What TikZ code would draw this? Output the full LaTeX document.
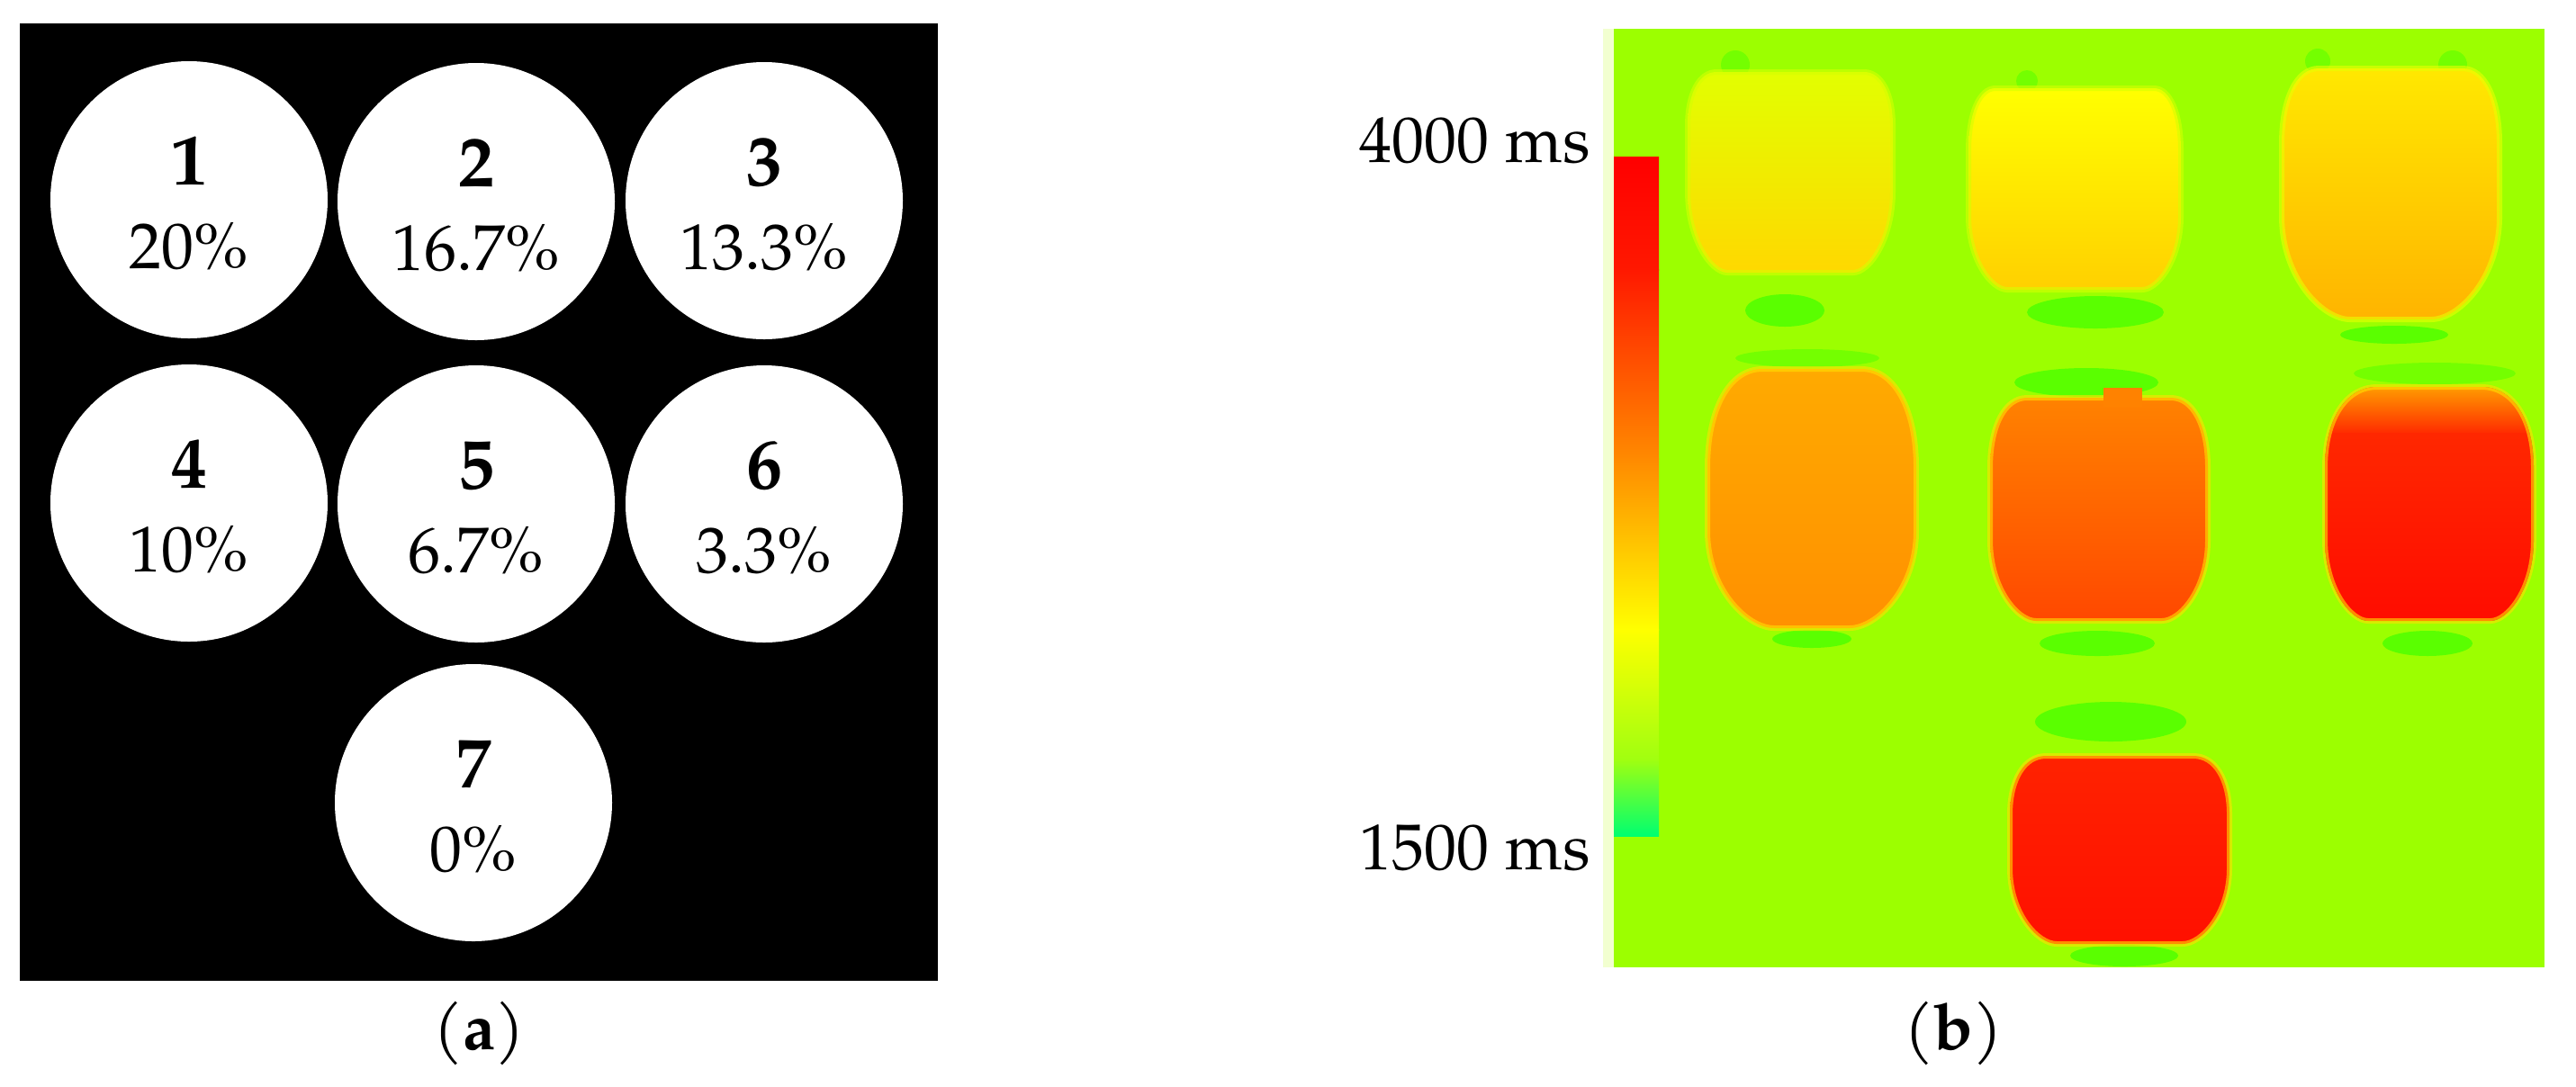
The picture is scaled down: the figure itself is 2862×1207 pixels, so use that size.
\documentclass[tikz,border=0pt]{standalone}
\usepackage{fontspec}
\setmainfont{TeX Gyre Pagella}
\definecolor{bggreen}{HTML}{9CFF00}
\definecolor{spotgreen}{HTML}{45FF00}
\definecolor{palestrip}{HTML}{F2FFD0}
\definecolor{cbA}{HTML}{FF0000}
\definecolor{cbB}{HTML}{FF1800}
\definecolor{cbC}{HTML}{FF8A00}
\definecolor{cbD}{HTML}{FFFF00}
\definecolor{cbE}{HTML}{A0FF10}
\definecolor{cbF}{HTML}{00FF70}
\definecolor{rimA}{HTML}{D4FF00}
\definecolor{rimB}{HTML}{E8FF00}
\definecolor{rimC}{HTML}{FFE000}
\definecolor{bOneT}{HTML}{E2FF00}\definecolor{bOneM}{HTML}{FFFC00}\definecolor{bOneB}{HTML}{FFD800}
\definecolor{bTwoT}{HTML}{FFFF00}\definecolor{bTwoM}{HTML}{FFF000}\definecolor{bTwoB}{HTML}{FFD000}
\definecolor{bThrT}{HTML}{FFE800}\definecolor{bThrM}{HTML}{FFD200}\definecolor{bThrB}{HTML}{FFB400}
\definecolor{bFouT}{HTML}{FFAA00}\definecolor{bFouM}{HTML}{FF9A00}\definecolor{bFouB}{HTML}{FF9000}
\definecolor{bFivT}{HTML}{FF8200}\definecolor{bFivM}{HTML}{FF6E00}\definecolor{bFivB}{HTML}{FF4800}
\definecolor{bSixT}{HTML}{FF2E00}\definecolor{bSixM}{HTML}{FF1A00}\definecolor{bSixB}{HTML}{FF0C00}
\definecolor{bSevT}{HTML}{FF2200}\definecolor{bSevM}{HTML}{FF1400}\definecolor{bSevB}{HTML}{FF1000}
\definecolor{bandO}{HTML}{FFA000}
% barrel outline: cx, top, bottom, yA, yB, half width, half top width, half bottom width
\newcommand\barrelpath[8]{({#1-#7},#2) -- ({#1+#7},#2)
    .. controls ({#1+#7+0.6*(#6-#7)},#2) and ({#1+#6},{#2+0.4*(#4-#2)}) .. ({#1+#6},#4)
    -- ({#1+#6},#5)
    .. controls ({#1+#6},{#5+0.6*(#3-#5)}) and ({#1+#8+0.4*(#6-#8)},#3) .. ({#1+#8},#3)
    -- ({#1-#8},#3)
    .. controls ({#1-#8-0.4*(#6-#8)},#3) and ({#1-#6},{#5+0.6*(#3-#5)}) .. ({#1-#6},#5)
    -- ({#1-#6},#4)
    .. controls ({#1-#6},{#2+0.4*(#4-#2)}) and ({#1-#7-0.6*(#6-#7)},#2) .. ({#1-#7},#2) -- cycle}
\begin{document}
\begin{tikzpicture}[x=0.5pt,y=-0.5pt,
  circ/.style={circle,fill=white,minimum size=154pt,inner sep=0pt},
  numtxt/.style={anchor=base,font=\fontsize{40}{44}\selectfont\bfseries,inner sep=0pt},
  pcttxt/.style={anchor=base,font=\fontsize{36}{40}\selectfont,inner sep=0pt},
  labtxt/.style={anchor=base east,font=\fontsize{36}{40}\selectfont,inner sep=0pt},
  captxt/.style={anchor=base,font=\fontsize{36}{40}\selectfont,inner sep=0pt},
  halo/.style={fill=spotgreen,opacity=0.75},
  softhalo/.style={fill=spotgreen,opacity=0.45},
  rimline/.style={draw=#1,line width=3pt,draw opacity=0.6}]
\useasboundingbox (0,0) rectangle (2862,1207);
\fill[white] (0,0) rectangle (2862,1207);
% ---------- panel (a)
\fill[black] (22,26) rectangle (1042,1090);
\foreach \i/\x/\y/\p in {1/210/222/20\%, 2/529/224/16.7\%, 3/849/223/13.3\%,
                         4/210/559/10\%, 5/529/560/6.7\%, 6/849/560/3.3\%,
                         7/526/892/0\%}{
  \node[circ] (c\i) at (\x,\y) {};
  \node[numtxt] (n\i) at (\x,\y-17) {\i};
  \node[pcttxt] (p\i) at (\x,\y+76) {\p};
}
\node[captxt] (capa) at (532,1166) {(\textbf{a})};
% ---------- panel (b)
\fill[bggreen] (1781,32) rectangle (2827,1075);
\fill[palestrip] (1781,32) rectangle (1793,1075);
% colour bar
\shade[top color=cbA, bottom color=cbB] (1793,174) rectangle (1843,300);
\shade[top color=cbB, bottom color=cbC] (1793,299) rectangle (1843,510);
\shade[top color=cbC, bottom color=cbD] (1793,509) rectangle (1843,700);
\shade[top color=cbD, bottom color=cbE] (1793,699) rectangle (1843,845);
\shade[top color=cbE, bottom color=cbF] (1793,844) rectangle (1843,929);
\node[labtxt] (l4000) at (1767,180) {4000 ms};
\node[labtxt] (l1500) at (1767,966) {1500 ms};
% green halos
\fill[halo] (1983,345) ellipse [x radius=22pt, y radius=9pt];
\fill[halo] (2328,347) ellipse [x radius=38pt, y radius=9pt];
\fill[halo] (2660,372) ellipse [x radius=30pt, y radius=5pt];
\fill[softhalo] (2008,398) ellipse [x radius=40pt, y radius=5pt];
\fill[halo] (2013,710) ellipse [x radius=22pt, y radius=5pt];
\fill[halo] (2318,425) ellipse [x radius=40pt, y radius=8pt];
\fill[halo] (2330,715) ellipse [x radius=32pt, y radius=7pt];
\fill[softhalo] (2705,415) ellipse [x radius=45pt, y radius=6pt];
\fill[halo] (2697,715) ellipse [x radius=25pt, y radius=7pt];
\fill[halo] (2345,802) ellipse [x radius=42pt, y radius=11pt];
\fill[halo] (2360,1062) ellipse [x radius=30pt, y radius=6pt];
\fill[softhalo] (1928,72) circle [radius=8pt];
\fill[softhalo] (2252,90) circle [radius=6pt];
\fill[softhalo] (2575,68) circle [radius=7pt];
\fill[softhalo] (2725,72) circle [radius=8pt];
% blobs
\path[rimline=rimA,top color=bOneT,middle color=bOneM,bottom color=bOneB]
  \barrelpath{1989}{80}{303}{140}{212}{114}{82}{70};
\path[rimline=rimA,top color=bTwoT,middle color=bTwoM,bottom color=bTwoB]
  \barrelpath{2305}{98}{322}{168}{240}{118}{88}{75};
\path[rimline=rimB,top color=bThrT,middle color=bThrM,bottom color=bThrB]
  \barrelpath{2656}{76}{355}{160}{240}{121}{80}{45};
\path[rimline=rimC,top color=bFouT,middle color=bFouM,bottom color=bFouB]
  \barrelpath{2013}{410}{698}{520}{590}{116}{55}{42};
\path[rimline=rimC,top color=bFivT,middle color=bFivM,bottom color=bFivB]
  \barrelpath{2332}{442}{690}{520}{600}{121}{80}{70};
\fill[bFivT] (2337,431) rectangle (2380,452);
\begin{scope}
  \clip \barrelpath{2699}{430}{690}{520}{600}{116}{58}{68};
  \fill[top color=bSixT,middle color=bSixM,bottom color=bSixB] (2580,430) rectangle (2820,690);
  \shade[top color=bandO,bottom color=bSixT] (2580,428) rectangle (2820,480);
\end{scope}
\path[rimline=rimC] \barrelpath{2699}{430}{690}{520}{600}{116}{58}{68};
\path[rimline=rimC,top color=bSevT,middle color=bSevM,bottom color=bSevB]
  \barrelpath{2355}{840}{1049}{905}{965}{122}{82}{70};
\node[captxt] (capb) at (2170,1166) {(\textbf{b})};
\end{tikzpicture}
\end{document}
